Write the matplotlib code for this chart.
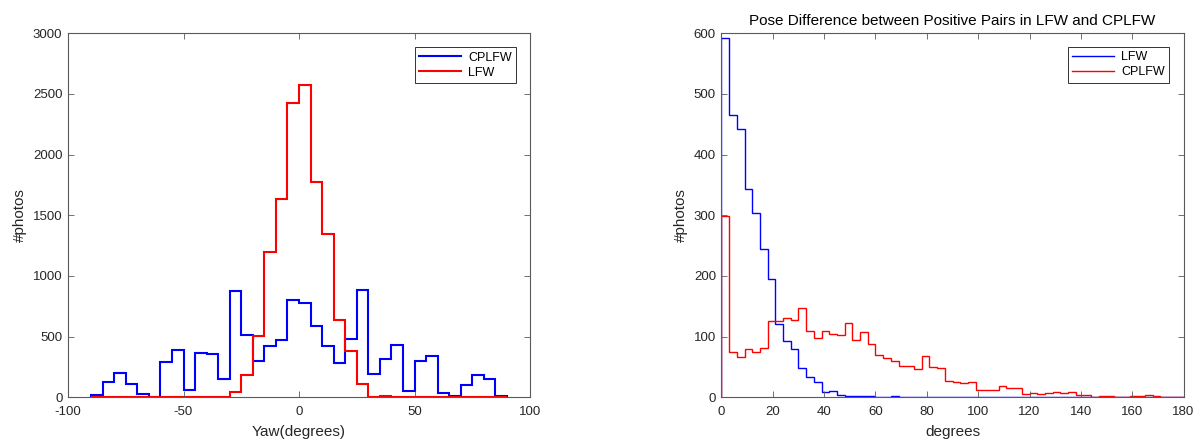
import numpy as np
import matplotlib
matplotlib.use("Agg")
import matplotlib.pyplot as plt

plt.rcParams['font.family'] = ['Liberation Sans', 'DejaVu Sans']
plt.rcParams['axes.unicode_minus'] = False

# ---- data: left chart (yaw histogram, 5-degree bins from -90 to 90)
yaw_edges = np.arange(-90, 95, 5)
cplfw_yaw = [15, 127, 204, 110, 30, 3, 295, 389, 58, 362, 353, 149,
             876, 514, 302, 426, 472, 802, 775, 591, 423, 286, 478, 885,
             192, 316, 432, 55, 302, 338, 33, 14, 105, 184, 151, 8]
lfw_yaw = [2, 2, 2, 2, 2, 2, 2, 0, 0, 2, 2, 2,
           47, 184, 508, 1195, 1634, 2423, 2577, 1777, 1343, 637, 382, 107,
           2, 10, 3, 3, 3, 3, 0, 0, 0, 0, 0, 0]

# ---- data: right chart (pose difference, 3-degree bins from 0 to 180)
diff_edges = np.arange(0, 183, 3)
lfw_diff = [592, 465, 443, 344, 304, 244, 195, 121, 92, 80,
            48, 34, 25, 9, 11, 3, 2, 2, 2, 2,
            0, 1, 2, 0, 0, 0, 0, 0, 0, 0,
            0, 0, 0, 0, 0, 0, 0, 0, 0, 0,
            0, 0, 0, 0, 0, 0, 0, 0, 0, 1,
            0, 0, 1, 1, 1, 1, 0, 0, 0, 0]
cplfw_diff = [299, 75, 66, 79, 75, 82, 126, 125, 130, 128,
              148, 110, 97, 109, 104, 102, 122, 95, 108, 88,
              70, 64, 60, 52, 52, 46, 68, 50, 48, 27,
              25, 23, 25, 12, 12, 12, 18, 16, 16, 5,
              7, 5, 7, 8, 7, 8, 3, 3, 0, 2,
              2, 0, 0, 2, 2, 4, 2, 0, 0, 0]

left_xticks = [-100, -50, 0, 50, 100]
left_yticks = [0, 500, 1000, 1500, 2000, 2500, 3000]
right_xticks = list(range(0, 181, 20))
right_yticks = list(range(0, 601, 100))

W, H = 1200, 443
fig = plt.figure(figsize=(W / 100, H / 100), dpi=100)

def axes_px(x0, x1, ytop, ybot):
    return fig.add_axes([x0 / W, 1 - ybot / H, (x1 - x0) / W, (ybot - ytop) / H])

ax1 = axes_px(68, 530, 33.3, 397.3)
ax2 = axes_px(721.5, 1183.5, 33.3, 397.3)

txtcol = '#262626'
fs = 9.5
lfs = 11

def style(ax):
    for s in ax.spines.values():
        s.set_color('#5a5a5a')
        s.set_linewidth(0.8)
    ax.tick_params(direction='in', top=True, right=True, length=4, width=0.6,
                   colors='#5a5a5a', labelcolor=txtcol, labelsize=fs)
    ax.tick_params(axis='x', pad=6)
    ax.tick_params(axis='y', pad=4)

def make_legend(ax, anchor):
    leg = ax.legend(loc='upper right', bbox_to_anchor=anchor, borderaxespad=0,
                    fontsize=9, frameon=True, fancybox=False, framealpha=1,
                    edgecolor='#333333', handlelength=3.3, handletextpad=0.6,
                    borderpad=0.35, labelspacing=0.25)
    leg.get_frame().set_linewidth(0.7)
    return leg

ax1.stairs(cplfw_yaw, yaw_edges, color='blue', lw=1.5, baseline=0, label='CPLFW')
ax1.stairs(lfw_yaw, yaw_edges, color='red', lw=1.5, baseline=0, label='LFW')
ax1.set_xlim(-100, 100)
ax1.set_ylim(0, 3000)
ax1.set_xticks(left_xticks)
ax1.set_yticks(left_yticks)
ax1.set_xlabel('Yaw(degrees)', fontsize=lfs, color=txtcol, labelpad=5)
ax1.set_ylabel('#photos', fontsize=lfs, color=txtcol, labelpad=4)
style(ax1)
make_legend(ax1, (0.97, 0.9615))

ax2.stairs(lfw_diff, diff_edges, color='blue', lw=1.0, baseline=0, label='LFW')
ax2.stairs(cplfw_diff, diff_edges, color='red', lw=1.0, baseline=0, label='CPLFW')
ax2.set_xlim(0, 180)
ax2.set_ylim(0, 600)
ax2.set_xticks(right_xticks)
ax2.set_yticks(right_yticks)
ax2.set_xlabel('degrees', fontsize=lfs, color=txtcol, labelpad=5)
ax2.set_ylabel('#photos', fontsize=lfs, color=txtcol, labelpad=4)
ax2.set_title('Pose Difference between Positive Pairs in LFW and CPLFW',
              fontsize=11, color='black', pad=6)
style(ax2)
make_legend(ax2, (0.969, 0.963))

fig.savefig('out.png', dpi=100)
